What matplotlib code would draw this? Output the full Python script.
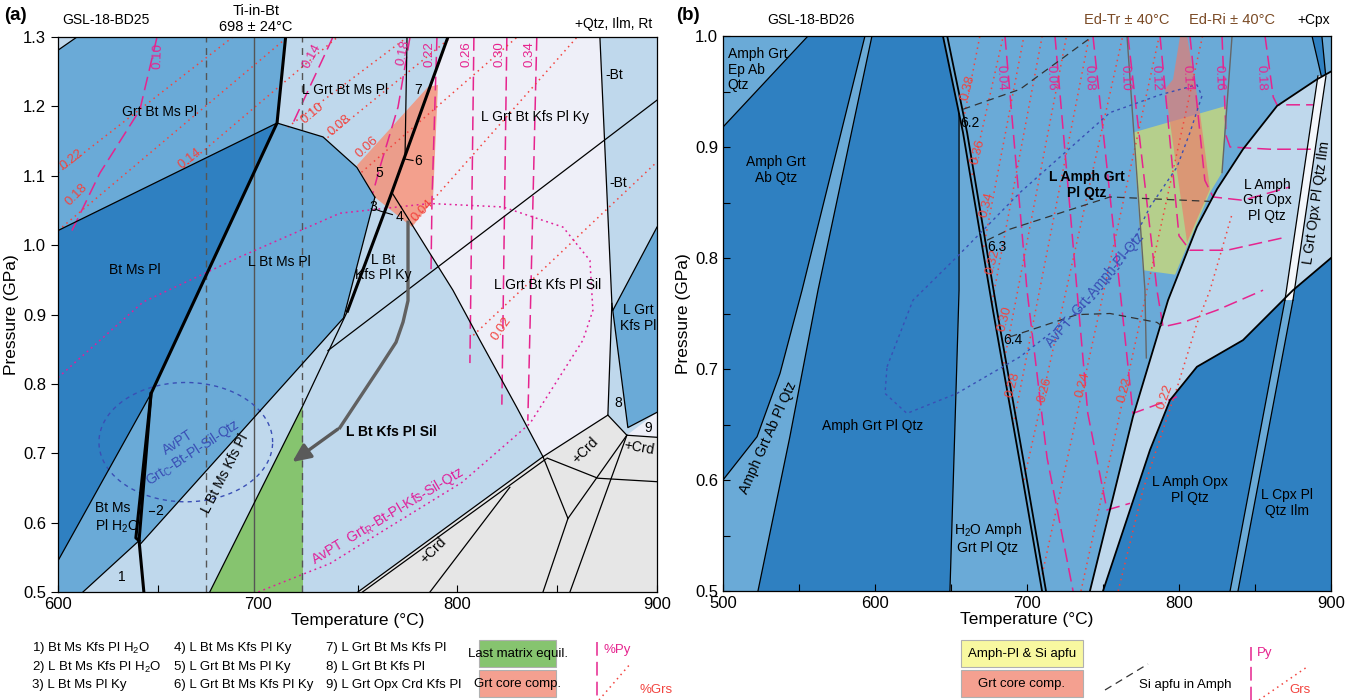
import numpy as np
import matplotlib.pyplot as plt
from matplotlib.patches import Polygon, Rectangle

plt.rcParams['font.family'] = ['Liberation Sans', 'DejaVu Sans']
plt.rcParams['mathtext.fontset'] = 'custom'
plt.rcParams['mathtext.rm'] = 'Liberation Sans'
plt.rcParams['mathtext.it'] = 'Liberation Sans:italic'
plt.rcParams['mathtext.bf'] = 'Liberation Sans:bold'

DARK, MED, LIGHT, PALE, GREY = '#2f80c1', '#6aaad7', '#bfd8ec', '#eeeff8', '#e6e6e6'
GREEN, SALMON, YELLOW = '#86c46f', '#f4937a', '#e8e85a'
PY, GRS, AVB = '#e6248e', '#f2443f', '#3a4fb5'
FS = 10

# ---------------- (a) GSL-18-BD25, fields as (T degC, P GPa)
a_grt_bt_ms_pl = [(600, 1.281), (609.5, 1.30), (714, 1.30), (709.7, 1.176), (600, 1.021)]
a_bt_ms_pl = [(600, 1.021), (709.7, 1.176), (646.6, 0.786), (600, 0.545)]
a_l_bt_ms_pl = [(709.7, 1.176), (732.7, 1.156), (749.7, 1.112), (758.7, 1.069),
                (743, 0.895), (640.6, 0.567), (646.6, 0.786)]
a_bt_ms_pl_h2o = [(600, 0.545), (646.6, 0.786), (640.6, 0.574), (612.5, 0.5), (600, 0.5)]
a_l_grt_kfs_pl = [(877.9, 0.906), (900, 1.026), (900, 0.759), (885.4, 0.737)]
a_l_grt_bt_kfs = [(795.3, 1.30), (871.4, 1.30), (877.4, 0.916), (875.4, 0.755), (842.9, 0.695),
                  (829.8, 0.766), (811.3, 0.863), (797.8, 0.935), (767.2, 1.076)]
a_field9 = [(884.9, 0.726), (900, 0.759), (900, 0.723)]
a_crd = [(750.2, 0.5), (842.9, 0.695), (875.4, 0.755), (884.9, 0.726), (900, 0.723), (900, 0.5)]
a_last_matrix = [(676, 0.5), (722.7, 0.5), (722.7, 0.769)]
a_grt_core = [(749.7, 1.115), (785.3, 1.228), (790.3, 1.231), (787.8, 1.065), (777.3, 1.026), (758.7, 1.069)]

a_thin = [
    [(600, 1.281), (609.5, 1.30)],
    [(600, 1.021), (709.7, 1.176)],
    [(600, 0.545), (646.6, 0.786)],
    [(612.5, 0.5), (640.6, 0.574)],
    [(640.6, 0.567), (743, 0.895), (758.7, 1.069)],
    [(709.7, 1.176), (732.7, 1.156), (749.7, 1.112), (758.7, 1.069)],
    [(676, 0.5), (722.7, 0.769), (745, 0.905)],
    [(735.2, 0.848), (900, 1.209)],
    [(774.8, 1.30), (773.8, 1.127), (767.2, 1.076)],
    [(767.2, 1.076), (797.8, 0.935), (811.3, 0.863), (829.8, 0.766), (842.9, 0.695)],
    [(871.4, 1.30), (877.4, 0.916), (875.4, 0.755), (842.9, 0.695)],
    [(877.9, 0.906), (900, 1.026)],
    [(877.4, 0.916), (885.4, 0.737), (900, 0.759)],
    [(875.4, 0.755), (884.9, 0.726), (900, 0.723)],
    [(750.2, 0.5), (842.9, 0.695)],
    [(752.5, 0.5), (844.5, 0.692)],
    [(842.9, 0.695), (855.4, 0.606), (842.9, 0.5)],
    [(845, 0.693), (870.4, 0.664), (900, 0.659)],
    [(884.9, 0.726), (855.4, 0.606)],
    [(884.9, 0.726), (856.4, 0.5)],
    [(786.3, 0.5), (826.3, 0.651)],
]
a_thick = [
    [(714, 1.30), (709.7, 1.176), (646.6, 0.786), (640.6, 0.574), (643, 0.5)],
    [(646.6, 0.786), (639.0, 0.578), (640.6, 0.574)],
    [(795.3, 1.30), (767.2, 1.076), (745, 0.905)],
]
a_leaders = [[(645.5, 0.617), (648.3, 0.617)], [(758.8, 1.052), (761.5, 1.049), (767.5, 1.044)],
             [(774.0, 1.124), (777.8, 1.122)]]

# garnet isopleths, panel a
a_py = {
    '0.10': [(607, 1.021), (621, 1.104), (641, 1.195), (649.6, 1.30)],
    '0.14': [(737.7, 1.30), (717.7, 1.176)],
    '0.18': [(776.3, 1.30), (770.3, 1.199), (761.2, 1.112), (757.7, 1.075)],
    '0.22': [(789.8, 1.30), (787.3, 1.065), (786.8, 0.959)],
    '0.26': [(808.3, 1.30), (806.3, 0.83)],
    '0.30': [(824.8, 1.30), (822.3, 0.77)],
    '0.34': [(839.8, 1.30), (835.3, 0.747)],
}
a_py_lab = {'0.10': (650, 1.272, 88), '0.14': (727, 1.272, 62), '0.18': (773, 1.278, 78),
            '0.22': (786, 1.276, 90), '0.26': (804.5, 1.276, 90), '0.30': (821, 1.276, 90),
            '0.34': (836, 1.276, 90)}
a_grs = [
    [(600, 1.104), (687.6, 1.30)],
    [(600, 1.021), (715, 1.30)],
    [(663, 1.112), (740, 1.30)],
    [(715, 1.17), (775, 1.30)],
    [(735, 1.155), (797, 1.30)],
    [(752, 1.105), (830, 1.30)],
    [(777, 1.03), (860, 1.30)],
    [(808, 0.87), (900, 1.12)],
]
a_grs_lab = [('0.22', 607, 1.123, 38), ('0.18', 609.5, 1.072, 45), ('0.14', 666, 1.125, 38),
             ('0.10', 727.7, 1.19, 40), ('0.08', 741.2, 1.173, 40), ('0.06', 754.7, 1.141, 42),
             ('0.04', 782.3, 1.05, 45), ('0.02', 822.3, 0.88, 55)]

a_avpt_rim = [(600, 0.809), (642.6, 0.918), (691.1, 0.983), (741.2, 1.046), (786.3, 1.060),
              (822.8, 1.055), (852.9, 1.026), (866.4, 0.978), (867.9, 0.906), (862.9, 0.863),
              (836.4, 0.743), (802.3, 0.658), (736.2, 0.541), (700.2, 0.5)]
a_avpt_core = (664, 0.716, 87, 0.172)  # centre T, centre P, width, height
a_path = [(775.3, 1.033), (775.3, 0.920), (772.8, 0.889), (769.3, 0.860), (761.2, 0.824),
          (741.2, 0.737), (716.2, 0.685)]
ti_in_bt, ti_err = 698, 24

a_labels = [
    ('Grt Bt Ms Pl', 651, 1.192, 0), ('Bt Ms Pl', 638.6, 0.964, 0), ('L Bt Ms Pl', 711, 0.975, 0),
    ('L Grt Bt Ms Pl', 743.7, 1.224, 0), ('7', 780.3, 1.224, 0), ('L Grt Bt Kfs Pl Ky', 838.9, 1.185, 0),
    ('-Bt', 878.5, 1.245, 0), ('-Bt', 880.5, 1.089, 0), ('5', 761, 1.104, 0), ('6', 780.5, 1.121, 0),
    ('3', 757.8, 1.055, 0), ('4', 770.8, 1.040, 0), ('L Bt\nKfs Pl Ky', 763, 0.968, 0),
    ('L Grt Bt Kfs Pl Sil', 845, 0.942, 0), ('L Grt\nKfs Pl', 890.5, 0.895, 0), ('8', 880.4, 0.772, 0),
    ('9', 895.6, 0.736, 0), ('+Crd', 864, 0.704, 45), ('+Crd', 891, 0.708, -10),
    ('+Crd', 787.8, 0.560, 45), ('L Bt Ms Kfs Pl', 683.6, 0.671, 63), ('1', 632, 0.521, 0),
    ('2', 650.5, 0.617, 0),
]

# ---------------- (b) GSL-18-BD26
b_amph_grt_ab_qtz = [(500, 0.918), (555.9, 1.0), (593.4, 1.0), (552, 0.771), (537.5, 0.696),
                     (522.4, 0.639), (500, 0.6)]
b_amph_grt_pl_qtz = [(598, 1.0), (644.7, 1.0), (655.3, 0.930), (655.3, 0.771), (649.3, 0.5),
                     (523, 0.5), (544, 0.639), (562.5, 0.771)]
b_l_amph_grt_opx = [(900, 0.968), (890.8, 0.961), (864.5, 0.937), (842.1, 0.898), (825, 0.862),
                    (811.8, 0.828), (792.8, 0.762), (769.7, 0.657), (741.4, 0.5), (750, 0.5),
                    (780.9, 0.627), (794.1, 0.672), (811.8, 0.702), (842.1, 0.726), (875, 0.771),
                    (900, 0.80)]
b_l_amph_opx = [(750, 0.5), (780.9, 0.627), (794.1, 0.672), (811.8, 0.702), (842.1, 0.726),
                (875, 0.771), (900, 0.80), (900, 0.5)]
b_cpx_band = [(869.7, 0.762), (875, 0.762), (838.8, 0.5), (833.6, 0.5)]
b_ilm_strip = [(891.4, 0.964), (896.7, 0.964), (875, 0.762), (869.7, 0.762)]
b_cpx_top = [(887.5, 1.0), (894, 1.0), (896.4, 0.966), (893.6, 0.964)]
b_amph_pl = [(769.7, 0.913), (830.9, 0.937), (828.3, 0.877), (820.4, 0.859), (797.4, 0.785), (776.3, 0.789)]
b_grt_core = [(800.7, 1.0), (796.1, 0.961), (790.8, 0.952), (794.1, 0.922), (805.3, 0.814),
              (820.4, 0.862), (813.8, 0.931), (805.3, 1.0)]

b_thin = [
    [(500, 0.918), (555.9, 1.0)],
    [(593.4, 1.0), (552, 0.771), (537.5, 0.696), (522.4, 0.639), (500, 0.6)],
    [(598, 1.0), (562.5, 0.771), (544, 0.639), (523, 0.5)],
    [(655.3, 0.930), (655.3, 0.771), (649.3, 0.5)],
    [(869.7, 0.762), (833.6, 0.5)], [(875, 0.762), (838.8, 0.5)],
    [(891.4, 0.964), (869.7, 0.762)], [(896.7, 0.964), (875, 0.762)],
    [(887.5, 1.0), (893.6, 0.964)], [(894, 1.0), (896.4, 0.966)],
]
b_heavy = [
    [(900, 0.968), (890.8, 0.961), (864.5, 0.937), (842.1, 0.898), (825, 0.862), (811.8, 0.828),
     (792.8, 0.762), (769.7, 0.657), (741.4, 0.5)],
    [(750, 0.5), (780.9, 0.627), (794.1, 0.672), (811.8, 0.702), (842.1, 0.726), (875, 0.771), (900, 0.80)],
    [(644.7, 1.0), (657.9, 0.913), (677.6, 0.753), (695.4, 0.615), (709.9, 0.5)],
    [(647.5, 1.0), (660.6, 0.913), (680.2, 0.753), (698, 0.615), (712.5, 0.5)],
]
b_ed_tr = [(765.8, 1.0), (777.6, 0.771), (778.5, 0.71)]
b_ed_ri = [(834.9, 1.0), (828.3, 0.877)]
b_si_apfu = {
    '6.2': [(657.9, 0.934), (695.4, 0.952), (743.4, 1.0)],
    '6.3': [(673.7, 0.816), (688.8, 0.826), (754.6, 0.855), (820.4, 0.851)],
    '6.4': [(688.8, 0.729), (732.9, 0.749), (754.6, 0.750), (785.5, 0.742), (789.5, 0.738)],
}
b_si_lab = {'6.2': (662.5, 0.922), '6.3': (680.3, 0.810), '6.4': (690.8, 0.726)}
b_avpt = [(607.9, 0.702), (625, 0.762), (653.9, 0.801), (695.4, 0.859), (754.6, 0.931),
          (787.5, 0.947), (811.8, 0.956), (815.1, 0.946), (807.2, 0.913), (798.7, 0.882),
          (780.9, 0.846), (761.2, 0.792), (743.4, 0.762), (695.4, 0.711), (653.9, 0.678),
          (621, 0.660), (606.6, 0.678), (607.9, 0.702)]
b_py = {
    '0.04': [(685.5, 1.0), (700, 0.771), (713.2, 0.62), (730.3, 0.5)],
    '0.06': [(718.4, 1.0), (732.9, 0.771), (740, 0.66), (752.6, 0.573), (767.8, 0.579)],
    '0.08': [(743.4, 1.0), (761.2, 0.771), (769.7, 0.66), (789.5, 0.670), (798.7, 0.675)],
    '0.10': [(766.4, 1.0), (785.5, 0.771), (789.5, 0.738), (802.6, 0.742), (825, 0.753), (855.3, 0.771)],
    '0.12': [(787.5, 1.0), (800, 0.82), (807.2, 0.807), (831.6, 0.807), (871.1, 0.819)],
    '0.14': [(807.2, 1.0), (817, 0.87), (822.4, 0.855), (842.1, 0.852), (873, 0.864)],
    '0.16': [(828.3, 1.0), (831, 0.91), (833.6, 0.900), (859.9, 0.898), (890.8, 0.898)],
    '0.18': [(856.6, 1.0), (862, 0.945), (864.5, 0.938), (888.2, 0.938)],
}
b_py_lab = {'0.04': 683, '0.06': 716, '0.08': 741, '0.10': 764.5, '0.12': 785,
            '0.14': 805, '0.16': 826, '0.18': 854}
b_grs = {
    '0.38': [(659, 0.93), (669, 1.0)],
    '0.36': [(663, 0.87), (684.4, 1.0)],
    '0.34': [(671.5, 0.81), (698, 1.0)],
    '0.32': [(677, 0.76), (710, 1.0)],
    '0.30': [(684, 0.70), (726, 1.0)],
    '0.28': [(691, 0.65), (741, 1.0)],
    '0.26': [(698, 0.60), (763, 1.0)],
    '0.24': [(710, 0.515), (787, 1.0)],
    '0.22': [(735.5, 0.5), (815.5, 1.0)],
}
b_grs_lab = {'0.38': (661.2, 0.953), '0.36': (667.8, 0.896), '0.34': (673.7, 0.848),
             '0.32': (677.6, 0.797), '0.30': (685.5, 0.745), '0.28': (690.8, 0.686),
             '0.26': (711.8, 0.681), '0.24': (736.8, 0.686), '0.22': (764.5, 0.681)}
b_grs_light = [[(760, 0.5), (776.3, 0.591), (798.7, 0.683), (811.8, 0.741), (820.4, 0.771), (835, 0.84)]]

b_labels = [
    ('Amph Grt\nAb Qtz', 535, 0.879, 0), ('Amph Grt Ab Pl Qtz', 529.6, 0.638, 66),
    ('Amph Grt Pl Qtz', 598.7, 0.649, 0), ('H$_2$O Amph\nGrt Pl Qtz', 674.3, 0.548, 0),
    ('L Amph\nGrt Opx\nPl Qtz', 857.9, 0.852, 0), ('L Grt Opx Pl Qtz Ilm', 890.5, 0.85, 82),
    ('L Amph Opx\nPl Qtz', 807.2, 0.591, 0), ('L Cpx Pl\nQtz Ilm', 871.1, 0.579, 0),
]


def field(ax, pts, color, alpha=1.0, z=1):
    ax.add_patch(Polygon(pts, closed=True, fc=color, ec='none', alpha=alpha, zorder=z))


def trace(ax, pts, **kw):
    t, p = np.array(pts).T
    ax.plot(t, p, solid_joinstyle='round', **kw)


def py_line(ax, pts):
    trace(ax, pts, color=PY, lw=1.1, dashes=(9, 4), zorder=3)


def grs_line(ax, pts):
    trace(ax, pts, color=GRS, lw=1.1, dashes=(1, 2.6), zorder=3)


def style_axes(ax, xlim, ylim, xmaj, xmin, ymaj, ymin):
    ax.set_xlim(*xlim)
    ax.set_ylim(*ylim)
    ax.set_xticks(xmaj)
    ax.set_xticks(xmin, minor=True)
    ax.set_yticks(ymaj)
    ax.set_yticks(ymin, minor=True)
    ax.yaxis.set_major_formatter(plt.FormatStrFormatter('%.1f'))
    ax.tick_params(labelsize=12, length=5, width=0.8, direction='in')
    ax.tick_params(which='minor', length=5, width=0.8, direction='in')
    ax.set_xlabel('Temperature (°C)', fontsize=12.5, labelpad=1)
    ax.set_ylabel('Pressure (GPa)', fontsize=12.5, labelpad=3)
    for s in ax.spines.values():
        s.set_linewidth(0.9)
        s.set_zorder(10)


fig = plt.figure(figsize=(13.54, 7.0), dpi=100)
axa = fig.add_axes([58 / 1354, 108 / 700, 599 / 1354, 555 / 700])
axb = fig.add_axes([723 / 1354, 109 / 700, 608 / 1354, 555 / 700])

# ======== panel a
axa.set_facecolor(LIGHT)
for pts, c in [(a_grt_bt_ms_pl, MED), (a_bt_ms_pl, DARK), (a_l_bt_ms_pl, MED), (a_bt_ms_pl_h2o, MED),
               (a_l_grt_bt_kfs, PALE), (a_l_grt_kfs_pl, MED), (a_field9, PALE), (a_crd, GREY)]:
    field(axa, pts, c)
field(axa, a_last_matrix, GREEN, z=2)
field(axa, a_grt_core, SALMON, alpha=0.85, z=2)

for k, pts in a_py.items():
    py_line(axa, pts)
    x, y, r = a_py_lab[k]
    axa.text(x, y, k, color=PY, fontsize=9.5, rotation=r, ha='center', va='center', zorder=6)
for pts in a_grs:
    grs_line(axa, pts)
for k, x, y, r in a_grs_lab:
    axa.text(x, y, k, color=GRS, fontsize=9.5, rotation=r, ha='center', va='center', zorder=6)

for pts in a_thin:
    trace(axa, pts, color='k', lw=0.9, zorder=4)
for pts in a_thick:
    trace(axa, pts, color='k', lw=2.2, zorder=4)
for pts in a_leaders:
    trace(axa, pts, color='k', lw=0.8, zorder=4)

axa.axvline(ti_in_bt, color='#555555', lw=1.0, zorder=3)
for t in (ti_in_bt - ti_err, ti_in_bt + ti_err):
    axa.axvline(t, color='#555555', lw=1.0, dashes=(5, 4), zorder=3)

trace(axa, a_avpt_rim, color='#e0209a', lw=1.1, dashes=(1.2, 2.4), zorder=3)
tc, pc, w, h = a_avpt_core
tt = np.linspace(0, 2 * np.pi, 200)
axa.plot(tc + w / 2 * np.cos(tt), pc + h / 2 * np.sin(tt), color=AVB, lw=1.0, dashes=(3, 3), zorder=3)

trace(axa, a_path[:-1], color='#616161', lw=2.4, zorder=5)
axa.annotate('', xy=a_path[-1], xytext=a_path[-2], zorder=5,
             arrowprops=dict(arrowstyle='-|>,head_length=1.1,head_width=0.5', color='#5a5a5a', lw=2.4))

for txt, x, y, r in a_labels:
    axa.text(x, y, txt, fontsize=FS, rotation=r, ha='center', va='center', linespacing=1.1, zorder=6)
axa.text(618.5, 0.606, 'Bt Ms\nPl H$_2$O', fontsize=FS, ha='left', va='center', linespacing=1.2, zorder=6)
axa.text(767, 0.730, 'L Bt Kfs Pl Sil', fontsize=FS, fontweight='bold', ha='center', va='center', zorder=6)
axa.text(660, 0.716, 'AvPT', color=AVB, fontsize=FS, rotation=33, ha='center', va='center', zorder=6)
axa.text(667.5, 0.700, 'Grt$_\\mathrm{C}$-Bt-Pl-Sil-Qtz', color=AVB, fontsize=FS, rotation=33,
         ha='center', va='center', zorder=6)
axa.text(765, 0.610, 'AvPT  Grt$_\\mathrm{R}$-Bt-Pl-Kfs-Sil-Qtz', color='#e0209a', fontsize=FS,
         rotation=31, ha='center', va='center', zorder=6)

style_axes(axa, (600, 900), (0.5, 1.3), [600, 700, 800, 900], [650, 750, 850],
           np.arange(0.5, 1.31, 0.1), [])
axa.tick_params(axis='y', direction='out')
fig.text(256 / 1354, 1 - 11 / 700, 'Ti-in-Bt', fontsize=10.5, ha='center', va='center')
fig.text(256 / 1354, 1 - 27 / 700, '%d ± %d°C' % (ti_in_bt, ti_err), fontsize=10.5, ha='center', va='center')
fig.text(62 / 1354, 1 - 20 / 700, 'GSL-18-BD25', fontsize=10, va='center')
fig.text(652 / 1354, 1 - 24 / 700, '+Qtz, Ilm, Rt', fontsize=10, ha='right', va='center')
fig.text(4 / 1354, 1 - 15 / 700, '(a)', fontsize=13.5, fontweight='bold', va='center')

# ======== panel b
axb.set_facecolor(MED)
for pts, c in [(b_amph_grt_ab_qtz, DARK), (b_amph_grt_pl_qtz, DARK), (b_l_amph_grt_opx, LIGHT),
               (b_l_amph_opx, DARK), (b_cpx_band, MED), (b_ilm_strip, '#f4f7fb'), (b_cpx_top, DARK)]:
    field(axb, pts, c)
field(axb, b_amph_pl, YELLOW, alpha=0.6, z=2)
field(axb, b_grt_core, '#ee7a6a', alpha=0.65, z=2)

for k, pts in b_py.items():
    py_line(axb, pts)
    axb.text(b_py_lab[k], 0.962, k, color=PY, fontsize=9.5, rotation=-88, ha='center', va='center', zorder=6)
for k, pts in b_grs.items():
    grs_line(axb, pts)
    x, y = b_grs_lab[k]
    axb.text(x, y, k, color=GRS, fontsize=9.5, rotation=75, ha='center', va='center', zorder=6)
for pts in b_grs_light:
    grs_line(axb, pts)
axb.text(790.8, 0.675, '0.22', color=GRS, fontsize=9.5, rotation=70, ha='center', va='center', zorder=6)

for pts in b_thin:
    trace(axb, pts, color='k', lw=0.9, zorder=4)
for pts in b_heavy:
    trace(axb, pts, color='k', lw=1.3, zorder=4)
for pts in (b_ed_tr, b_ed_ri):
    trace(axb, pts, color='#666666', lw=1.0, zorder=4)
for k, pts in b_si_apfu.items():
    trace(axb, pts, color='#333333', lw=0.9, dashes=(6, 4), zorder=4)
    axb.text(*b_si_lab[k], k, fontsize=FS, ha='center', va='center', zorder=6)
trace(axb, b_avpt, color=AVB, lw=1.0, dashes=(2, 2.6), zorder=4)
axb.text(744.7, 0.771, 'AvPT  Grt-Amph-Pl-Qtz', color=AVB, fontsize=FS, rotation=50,
         ha='center', va='center', zorder=6)

for txt, x, y, r in b_labels:
    axb.text(x, y, txt, fontsize=FS, rotation=r, ha='center', va='center', linespacing=1.15, zorder=6)
axb.text(503, 0.99, 'Amph Grt\nEp Ab\nQtz', fontsize=FS, ha='left', va='top', linespacing=1.15, zorder=6)
axb.text(739.5, 0.866, 'L Amph Grt\nPl Qtz', fontsize=FS, fontweight='bold', ha='center', va='center',
         linespacing=1.15, zorder=6)

style_axes(axb, (500, 900), (0.5, 1.0), [500, 600, 700, 800, 900], [550, 650, 750, 850],
           np.arange(0.5, 1.01, 0.1), np.arange(0.55, 1.0, 0.1))
axb.text(765.8, 1.008, 'Ed-Tr ± 40°C', color='#7a4a25', fontsize=10.5, ha='center', va='bottom')
axb.text(834.9, 1.008, 'Ed-Ri ± 40°C', color='#7a4a25', fontsize=10.5, ha='center', va='bottom')
fig.text(767 / 1354, 1 - 20 / 700, 'GSL-18-BD26', fontsize=10, va='center')
fig.text(1330 / 1354, 1 - 20 / 700, '+Cpx', fontsize=10, ha='right', va='center')
fig.text(676 / 1354, 1 - 15 / 700, '(b)', fontsize=13.5, fontweight='bold', va='center')

# ======== keys below the panels
a_key = [['1) Bt Ms Kfs Pl H$_2$O', '2) L Bt Ms Kfs Pl H$_2$O', '3) L Bt Ms Pl Ky'],
         ['4) L Bt Ms Kfs Pl Ky', '5) L Grt Bt Ms Pl Ky', '6) L Grt Bt Ms Kfs Pl Ky'],
         ['7) L Grt Bt Ms Kfs Pl', '8) L Grt Bt Kfs Pl', '9) L Grt Opx Crd Kfs Pl']]
for cx, col in zip((32, 174, 326), a_key):
    for cy, s in zip((648, 667, 685), col):
        fig.text(cx / 1354, 1 - cy / 700, s, fontsize=9.5, va='center')


def key_box(x0, y0, w, h, color, text):
    fig.add_artist(Rectangle((x0 / 1354, 1 - (y0 + h) / 700), w / 1354, h / 700, transform=fig.transFigure,
                             fc=color, ec='#b0b0b0', lw=0.8))
    fig.text((x0 + w / 2) / 1354, 1 - (y0 + h / 2) / 700, text, fontsize=9.5, ha='center', va='center')


def key_line(xs, ys, **kw):
    fig.add_artist(plt.Line2D([x / 1354 for x in xs], [1 - y / 700 for y in ys],
                              transform=fig.transFigure, **kw))


key_box(479, 640, 77, 27, GREEN, 'Last matrix equil.')
key_box(479, 670, 77, 27, '#f4a090', 'Grt core comp.')
key_line([597, 597], [642, 700], color=PY, lw=1.1, dashes=(9, 4))
key_line([599, 631], [700, 663], color=GRS, lw=1.1, dashes=(1, 2.6))
fig.text(603 / 1354, 1 - 650 / 700, '%Py', color=PY, fontsize=9.5, va='center')
fig.text(640 / 1354, 1 - 690 / 700, '%Grs', color=GRS, fontsize=9.5, va='center')

key_box(961, 640, 122, 27, '#f8f8a0', 'Amph-Pl & Si apfu')
key_box(961, 670, 122, 27, '#f4a090', 'Grt core comp.')
key_line([1105, 1148], [690, 664], color='#333333', lw=0.9, dashes=(6, 4))
key_line([1251, 1251], [647, 700], color=PY, lw=1.1, dashes=(9, 4))
key_line([1259, 1307], [700, 667], color=GRS, lw=1.1, dashes=(1, 2.6))
fig.text(1139 / 1354, 1 - 685 / 700, 'Si apfu in Amph', fontsize=9.5, va='center')
fig.text(1257 / 1354, 1 - 653 / 700, 'Py', color=PY, fontsize=9.5, va='center')
fig.text(1289 / 1354, 1 - 690 / 700, 'Grs', color=GRS, fontsize=9.5, va='center')

fig.savefig('out.png', dpi=100)
